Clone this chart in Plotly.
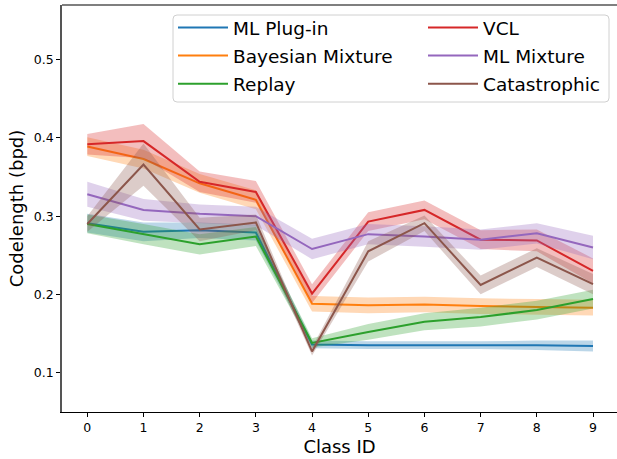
import plotly.graph_objects as go

# Class IDs on the x axis
class_ids = [0, 1, 2, 3, 4, 5, 6, 7, 8, 9]

# Mean codelength (bits per dimension) per method
ml_plugin = [0.291, 0.280, 0.282, 0.279, 0.136, 0.135, 0.135, 0.135, 0.135, 0.134]
bayesian_mixture = [0.389, 0.373, 0.342, 0.321, 0.188, 0.186, 0.187, 0.185, 0.184, 0.183]
replay = [0.290, 0.277, 0.264, 0.274, 0.138, 0.152, 0.165, 0.171, 0.180, 0.194]
vcl = [0.392, 0.396, 0.344, 0.331, 0.201, 0.293, 0.308, 0.270, 0.269, 0.230]
ml_mixture = [0.328, 0.308, 0.303, 0.300, 0.258, 0.277, 0.274, 0.270, 0.278, 0.260]
catastrophic = [0.290, 0.366, 0.283, 0.292, 0.127, 0.255, 0.291, 0.212, 0.247, 0.213]

# Standard deviation across runs (shaded band = mean +/- std)
ml_plugin_std = [0.012, 0.012, 0.010, 0.010, 0.005, 0.005, 0.005, 0.005, 0.006, 0.007]
bayesian_mixture_std = [0.012, 0.012, 0.012, 0.012, 0.010, 0.010, 0.010, 0.010, 0.010, 0.010]
replay_std = [0.012, 0.013, 0.013, 0.012, 0.006, 0.010, 0.011, 0.012, 0.012, 0.012]
vcl_std = [0.013, 0.022, 0.013, 0.014, 0.012, 0.012, 0.012, 0.012, 0.014, 0.016]
ml_mixture_std = [0.016, 0.014, 0.012, 0.012, 0.013, 0.013, 0.013, 0.013, 0.013, 0.015]
catastrophic_std = [0.010, 0.027, 0.015, 0.010, 0.005, 0.013, 0.010, 0.012, 0.012, 0.013]

y_ticks = [0.1, 0.2, 0.3, 0.4, 0.5]

series = [
    ("ML Plug-in", ml_plugin, ml_plugin_std, (31, 119, 180), "legend"),
    ("Bayesian Mixture", bayesian_mixture, bayesian_mixture_std, (255, 127, 14), "legend"),
    ("Replay", replay, replay_std, (44, 160, 44), "legend"),
    ("VCL", vcl, vcl_std, (214, 39, 40), "legend2"),
    ("ML Mixture", ml_mixture, ml_mixture_std, (148, 103, 189), "legend2"),
    ("Catastrophic", catastrophic, catastrophic_std, (140, 86, 75), "legend2"),
]

W, H = 617, 459
ML, MR, MT, MB = 62, 0, 5, 47
PW, PH = W - ML - MR, H - MT - MB


def px_x(p):
    return (p - ML) / PW


def px_y(p):
    return 1 - (p - MT) / PH


fig = go.Figure()
for name, mean, std, rgb, leg in series:
    upper = [m + s for m, s in zip(mean, std)]
    lower = [m - s for m, s in zip(mean, std)]
    fig.add_trace(go.Scatter(
        x=class_ids + class_ids[::-1], y=upper + lower[::-1],
        fill="toself", fillcolor="rgba(%d,%d,%d,0.3)" % rgb,
        line=dict(width=0), mode="lines", hoverinfo="skip",
        showlegend=False, legendgroup=name, legend=leg,
    ))
    fig.add_trace(go.Scatter(
        x=class_ids, y=mean, mode="lines", name=name,
        line=dict(color="rgb(%d,%d,%d)" % rgb, width=2),
        legendgroup=name, legend=leg,
    ))

# rounded legend frame spanning both legend columns
x0, x1, y0, y1, r = 173, 609, 15, 102, 4
path = (
    f"M {px_x(x0 + r)},{px_y(y0)} L {px_x(x1 - r)},{px_y(y0)} "
    f"Q {px_x(x1)},{px_y(y0)} {px_x(x1)},{px_y(y0 + r)} "
    f"L {px_x(x1)},{px_y(y1 - r)} Q {px_x(x1)},{px_y(y1)} {px_x(x1 - r)},{px_y(y1)} "
    f"L {px_x(x0 + r)},{px_y(y1)} Q {px_x(x0)},{px_y(y1)} {px_x(x0)},{px_y(y1 - r)} "
    f"L {px_x(x0)},{px_y(y0 + r)} Q {px_x(x0)},{px_y(y0)} {px_x(x0 + r)},{px_y(y0)} Z"
)

font = "DejaVu Sans"
legend_common = dict(
    font=dict(family=font, size=18.5, color="black"),
    bgcolor="rgba(0,0,0,0)", borderwidth=0,
    yanchor="top", xanchor="left",
    traceorder="grouped", tracegroupgap=1, itemwidth=50,
)

fig.update_layout(
    width=W, height=H,
    margin=dict(l=ML, r=MR, t=MT, b=MB, pad=0),
    paper_bgcolor="white", plot_bgcolor="white",
    font=dict(family=font, color="black"),
    shapes=[
        dict(type="path", path=path, xref="paper", yref="paper",
             line=dict(color="#d0d0d0", width=1), fillcolor="rgba(255,255,255,0.8)",
             layer="below"),
        dict(type="line", xref="paper", yref="paper", x0=0, x1=1, y0=1, y1=1,
             line=dict(color="#555555", width=1.6)),
    ],
    legend=dict(x=px_x(x0), y=px_y(9), **legend_common),
    legend2=dict(x=px_x(423), y=px_y(9), **legend_common),
    xaxis=dict(
        range=[-0.45, (W - 87.3) / 56.19],
        tickmode="array", tickvals=class_ids,
        ticks="outside", ticklen=4, tickcolor="black", tickwidth=1,
        tickfont=dict(family=font, size=12.5, color="black"),
        showgrid=False, zeroline=False,
        showline=True, linecolor="black", linewidth=1.2,
        title=dict(text="Class ID", font=dict(family=font, size=18), standoff=6),
    ),
    yaxis=dict(
        range=[0.0496, 0.570],
        tickmode="array", tickvals=y_ticks, ticktext=[f"{v:.1f}" for v in y_ticks],
        ticks="outside", ticklen=4, tickcolor="black", tickwidth=1,
        tickfont=dict(family=font, size=12.5, color="black"),
        showgrid=False, zeroline=False,
        showline=True, linecolor="#555555", linewidth=1.6,
        title=dict(text="Codelength (bpd)", font=dict(family=font, size=18), standoff=6),
    ),
)

fig.write_html("out.html")
